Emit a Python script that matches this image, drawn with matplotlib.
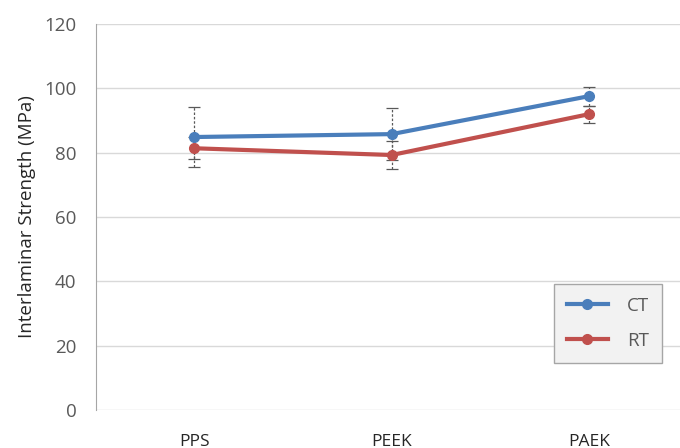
import matplotlib
matplotlib.use("Agg")
import matplotlib.pyplot as plt

# Données
materials = ["PPS", "PEEK", "PAEK"]
ct_strength = [84.9, 85.8, 97.6]
ct_error = [9.2, 8.2, 2.9]
rt_strength = [81.4, 79.3, 92.0]
rt_error = [3.4, 4.3, 2.7]
y_ticks = [0, 20, 40, 60, 80, 100, 120]

plt.rcParams['font.family'] = ['Open Sans', 'DejaVu Sans']

fig = plt.figure(figsize=(6.8, 4.48), dpi=100)
ax = fig.add_axes([0.141, 0.085, 0.87, 0.861])

x = list(range(len(materials)))

for vals, errs, color, label in [(ct_strength, ct_error, '#4a7ebb', 'CT'),
                                 (rt_strength, rt_error, '#c0504d', 'RT')]:
    ax.plot(x, vals, color=color, linewidth=3, marker='o', markersize=7,
            label=label, zorder=3)
    eb = ax.errorbar(x, vals, yerr=errs, fmt='none', ecolor='#595959',
                     elinewidth=0.9, capsize=4, capthick=0.9, zorder=2)
    eb[2][0].set_linestyle((0, (2, 1.5)))

ax.set_xlim(-0.5, 2.5)
ax.set_ylim(0, 120)
ax.set_yticks(y_ticks)
ax.set_xticks(x)
ax.set_xticklabels(materials, fontsize=12.5, color='#262626')
ax.tick_params(axis='x', length=0, pad=17)
ax.tick_params(axis='y', length=0, pad=14, labelsize=13.5, labelcolor='#595959')
ax.set_ylabel('Interlaminar Strength (MPa)', fontsize=13.5, color='#262626',
              labelpad=6)

ax.grid(axis='y', color='#d9d9d9', linewidth=1)
ax.set_axisbelow(True)
for side in ['top', 'right']:
    ax.spines[side].set_visible(False)
ax.spines['bottom'].set_visible(False)
ax.spines['left'].set_color('#a6a6a6')

leg = ax.legend(loc='lower right', bbox_to_anchor=(0.957, 0.122),
                fontsize=13.5, frameon=True, fancybox=False,
                handlelength=2.2, handletextpad=1.0, borderpad=0.7,
                labelspacing=0.9, borderaxespad=0)
leg.get_frame().set_facecolor('#f2f2f2')
leg.get_frame().set_edgecolor('#a6a6a6')
leg.get_frame().set_alpha(1)
for t in leg.get_texts():
    t.set_color('#595959')

fig.savefig('out.png', dpi=100)
